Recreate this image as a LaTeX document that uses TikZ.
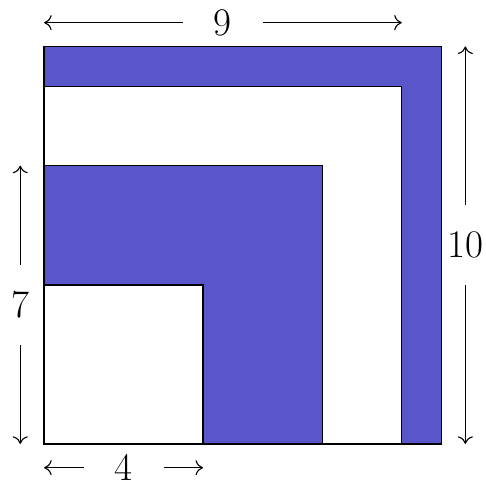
\documentclass[tikz,border=0pt]{standalone}
\usepackage{tikz}
\usetikzlibrary{arrows.meta,calc,positioning}
\definecolor{lblue}{RGB}{89,86,202}

\begin{document}
\begin{tikzpicture}[
  sq/.style={draw,line width=1pt,fill=#1},
  sq/.default=white,
  dim/.style={minimum size=2cm,inner sep=0pt,font=\fontsize{28}{34}\selectfont},
  dimline/.style={-{To[length=1.9mm,width=3.8mm]},line width=0.8pt}]
  \useasboundingbox (-1.11,-1.0) rectangle (11.12,11.17);
  % nested squares
  \draw[sq=lblue] (0,0) rectangle (10,10);
  \draw[sq] (0,0) rectangle (9,9);
  \draw[sq=lblue] (0,0) rectangle (7,7);
  \draw[sq] (0,0) rectangle (4,4);
  % dimension labels
  \node[dim] (nine) at (4.5,10.6) {9};
  \node[dim] (ten) at (10.6,5) {10};
  \node[dim] (seven) at (-0.6,3.5) {7};
  \node[dim] (four) at (2,-0.6) {4};
  \coordinate (nineL) at (0,10.6);
  \coordinate (nineR) at (9,10.6);
  \coordinate (tenB) at (10.6,0);
  \coordinate (tenT) at (10.6,10);
  \coordinate (sevenB) at (-0.6,0);
  \coordinate (sevenT) at (-0.6,7);
  \coordinate (fourL) at (0,-0.6);
  \coordinate (fourR) at (4,-0.6);
  \draw[dimline] (nine) -- (nineL);
  \draw[dimline] (nine) -- (nineR);
  \draw[dimline] (ten) -- (tenB);
  \draw[dimline] (ten) -- (tenT);
  \draw[dimline] (seven) -- (sevenB);
  \draw[dimline] (seven) -- (sevenT);
  \draw[dimline] (four) -- (fourL);
  \draw[dimline] (four) -- (fourR);
\end{tikzpicture}
\end{document}
